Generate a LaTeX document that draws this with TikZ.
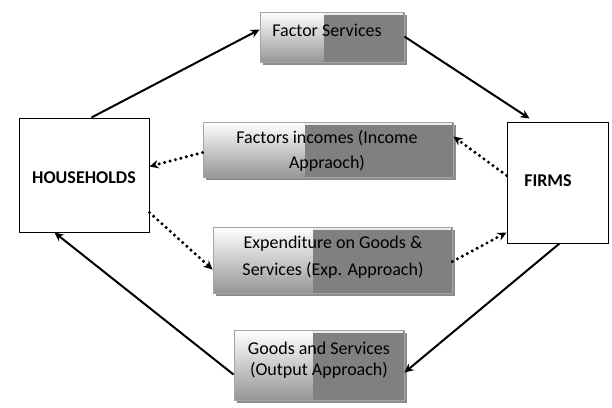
\documentclass[tikz,border=0pt]{standalone}
\usepackage{fontspec}
\setmainfont{Carlito}
\usetikzlibrary{arrows.meta,calc}
\definecolor{dk}{RGB}{128,128,128}
\definecolor{lightbot}{RGB}{150,150,150}
\definecolor{shadowgray}{RGB}{140,140,140}
\definecolor{bordergray}{RGB}{165,165,165}
\definecolor{stripc}{RGB}{235,235,235}
\tikzset{
 flow/.style={line width=2pt, -{Stealth[length=9pt,width=8.5pt]}},
 dots/.style={line width=3.4pt, line cap=round, dash pattern=on 0pt off 5.6pt, -{Stealth[length=9pt,width=8.5pt]}},
 sector/.style={draw, line width=1pt, inner sep=0pt, fill=white},
 boxlabel/.style={align=center, inner sep=0pt},
 sectorlabel/.style={font=\bfseries\fontsize{18}{20}\selectfont, inner sep=0pt},
}
\newcommand\gbox[6]{%
 \fill[shadowgray] (#2+3,#3+3) rectangle (#4+3,#5+3);
 \shade[top color=white, bottom color=lightbot] (#2,#3) rectangle (#6,#5);
 \fill[dk] (#6,#3) rectangle (#4,#5);
 \fill[stripc] (#6,#3+0.8) rectangle (#4-0.8,#3+2.5);
 \node[inner sep=0pt, draw=bordergray, line width=0.9pt, minimum width={(#4-#2)*1pt}, minimum height={(#5-#3)*1pt}] (#1) at ({(#2+#4)/2},{(#3+#5)/2}) {};
}
\begin{document}
\begin{tikzpicture}[x=1pt,y=-1pt]
\useasboundingbox (0,0) rectangle (612,407);
% sectors
\node[sector, minimum width=130pt, minimum height=114pt] (hh) at (84,175) {};
\node[sector, minimum width=101pt, minimum height=121pt] (firms) at (557.5,182.5) {};
\node[sectorlabel] (hht) at (84,178) {HOUSEHOLDS};
\node[sectorlabel] (firmst) at (548,181) {FIRMS};
% flow boxes
\gbox{fs}{260}{12}{404}{62}{324}
\gbox{fi}{203}{122}{453}{177}{305}
\gbox{ex}{213}{227}{452}{293}{313}
\gbox{gs}{234}{330}{404}{400}{313}
\node[boxlabel, font=\fontsize{18}{25}\selectfont] (fst) at (327,30) {Factor Services};
\node[boxlabel, font=\fontsize{18}{25}\selectfont] (fit) at (327,151) {Factors incomes (Income\\Appraoch)};
\node[boxlabel, font=\fontsize{18}{27}\selectfont] (ext) at (333,257) {Expenditure on Goods \&\\Services (Exp. Approach)};
\node[boxlabel, font=\fontsize{18}{21}\selectfont] (gst) at (319,360) {Goods and Services\\(Output Approach)};
% connectors
\draw[flow] ($(hh.north west)+(73,0)$) -- ($(fs.north west)+(0,18)$);
\draw[flow] ($(fs.north east)+(0,25)$) -- ($(firms.north west)+(23,-3)$);
\draw[dots] ($(firms.north west)+(0,54)$) -- ($(fi.north east)+(0,15)$);
\draw[dots] ($(fi.north west)+(0,31)$) -- ($(hh.north east)+(0,49)$);
\draw[dots] ($(hh.north east)+(0,95)$) -- ($(ex.north west)+(0,43)$);
\draw[dots] ($(ex.north east)+(0,35)$) -- ($(firms.north west)+(0,111)$);
\draw[flow] ($(firms.south west)+(53,0)$) -- ($(gs.north east)+(0,43)$);
\draw[flow] ($(gs.north west)+(0,45)$) -- ($(hh.south west)+(36,0)$);
\end{tikzpicture}
\end{document}
